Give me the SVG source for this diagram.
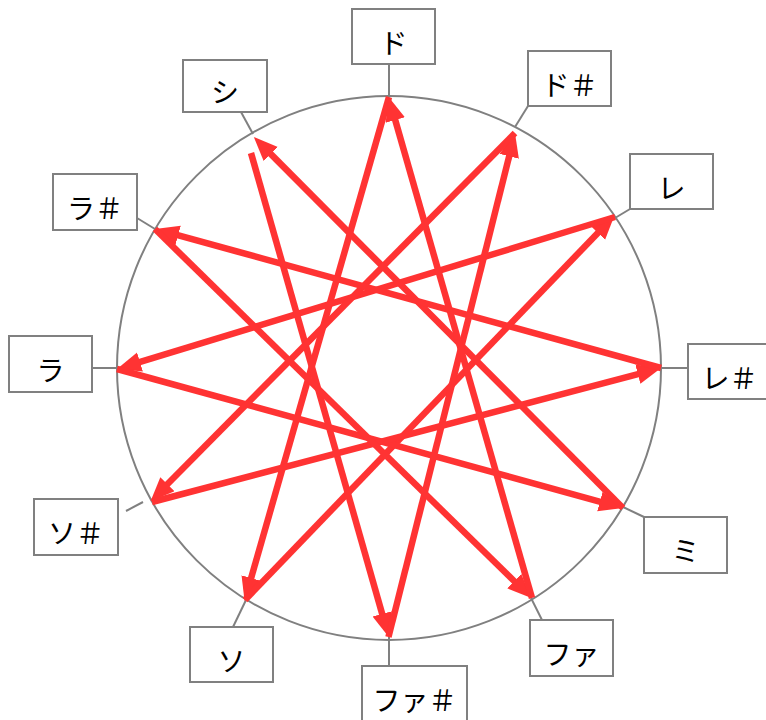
<svg xmlns="http://www.w3.org/2000/svg" width="766" height="720" viewBox="0 0 766 720">
<style>
.bg{fill:#ffffff}
.ring{fill:none;stroke:#808080;stroke-width:2}
.box{fill:#ffffff;stroke:#808080;stroke-width:2}
.lead{stroke:#808080;stroke-width:2;fill:none}
.lbl{font-family:"Noto Sans CJK JP","Noto Sans",sans-serif;font-size:28px;fill:#000000;text-anchor:middle;dominant-baseline:central}
.arr{stroke:#ff3333;stroke-width:6.5;fill:none;marker-end:url(#head)}
</style>
<defs>
<marker id="head" markerUnits="userSpaceOnUse" markerWidth="26" markerHeight="22" refX="10" refY="10" orient="auto" viewBox="0 0 26 22">
<path d="M0,0 L24,10 L0,20 Z" fill="#ff3333"/>
</marker>
</defs>
<rect class="bg" x="0" y="0" width="766" height="720"/>
<circle class="ring" cx="389" cy="368" r="272"/>

<g id="leads">
<line class="lead" x1="389" y1="64" x2="389" y2="97"/>
<line class="lead" x1="528" y1="106" x2="515" y2="127"/>
<line class="lead" x1="630" y1="209" x2="615" y2="218"/>
<line class="lead" x1="661" y1="368" x2="688" y2="368"/>
<line class="lead" x1="623" y1="507" x2="644" y2="517"/>
<line class="lead" x1="531" y1="598" x2="542" y2="620"/>
<line class="lead" x1="389" y1="637" x2="389" y2="666"/>
<line class="lead" x1="246" y1="600" x2="233" y2="627"/>
<line class="lead" x1="126" y1="511" x2="143" y2="502"/>
<line class="lead" x1="92" y1="368" x2="117" y2="368"/>
<line class="lead" x1="137" y1="218" x2="155" y2="229"/>
<line class="lead" x1="241" y1="112" x2="253" y2="134"/>
</g>

<g id="connectors">
<line class="arr" x1="389" y1="97" x2="248.4" y2="587.6"/>
<line class="arr" x1="245" y1="600" x2="604.8" y2="225.7"/>
<line class="arr" x1="615" y1="217" x2="130.4" y2="364.9"/>
<line class="arr" x1="117" y1="369" x2="609.5" y2="504.3"/>
<line class="arr" x1="623" y1="508" x2="263.7" y2="146.9"/>
<line class="arr" x1="251" y1="153" x2="384.9" y2="623.5"/>
<line class="arr" x1="388.5" y1="637" x2="511.6" y2="146.6"/>
<line class="arr" x1="515" y1="133" x2="160.4" y2="491.3"/>
<line class="arr" x1="152" y1="502" x2="647.5" y2="371.6"/>
<line class="arr" x1="661" y1="368" x2="168.5" y2="232.7"/>
<line class="arr" x1="155" y1="229" x2="521.4" y2="588.2"/>
<line class="arr" x1="532" y1="598" x2="392.5" y2="110.5"/>
</g>

<g id="n-do"><rect class="box" x="352" y="9" width="83" height="55"/><text class="lbl" x="393.5" y="42">ド</text></g>
<g id="n-dos"><rect class="box" x="528" y="51" width="83" height="55"/><text class="lbl" x="569.5" y="84">ド＃</text></g>
<g id="n-re"><rect class="box" x="630" y="154" width="83" height="55"/><text class="lbl" x="671.5" y="187">レ</text></g>
<g id="n-res"><rect class="box" x="688" y="344" width="83" height="55"/><text class="lbl" x="729.5" y="377">レ＃</text></g>
<g id="n-mi"><rect class="box" x="644" y="517" width="83" height="56"/><text class="lbl" x="685.5" y="550">ミ</text></g>
<g id="n-fa"><rect class="box" x="530" y="620" width="83" height="56"/><text class="lbl" x="571.5" y="653">ファ</text></g>
<g id="n-fas"><rect class="box" x="362" y="666" width="105" height="55"/><text class="lbl" x="414.5" y="699">ファ＃</text></g>
<g id="n-so"><rect class="box" x="190" y="627" width="83" height="55"/><text class="lbl" x="231.5" y="660">ソ</text></g>
<g id="n-sos"><rect class="box" x="34" y="499" width="84" height="56"/><text class="lbl" x="76" y="532">ソ＃</text></g>
<g id="n-ra"><rect class="box" x="9" y="336" width="83" height="56"/><text class="lbl" x="50.5" y="369">ラ</text></g>
<g id="n-ras"><rect class="box" x="53" y="174" width="84" height="56"/><text class="lbl" x="95" y="207">ラ＃</text></g>
<g id="n-si"><rect class="box" x="183" y="60" width="84" height="52"/><text class="lbl" x="225" y="91">シ</text></g>
</svg>
